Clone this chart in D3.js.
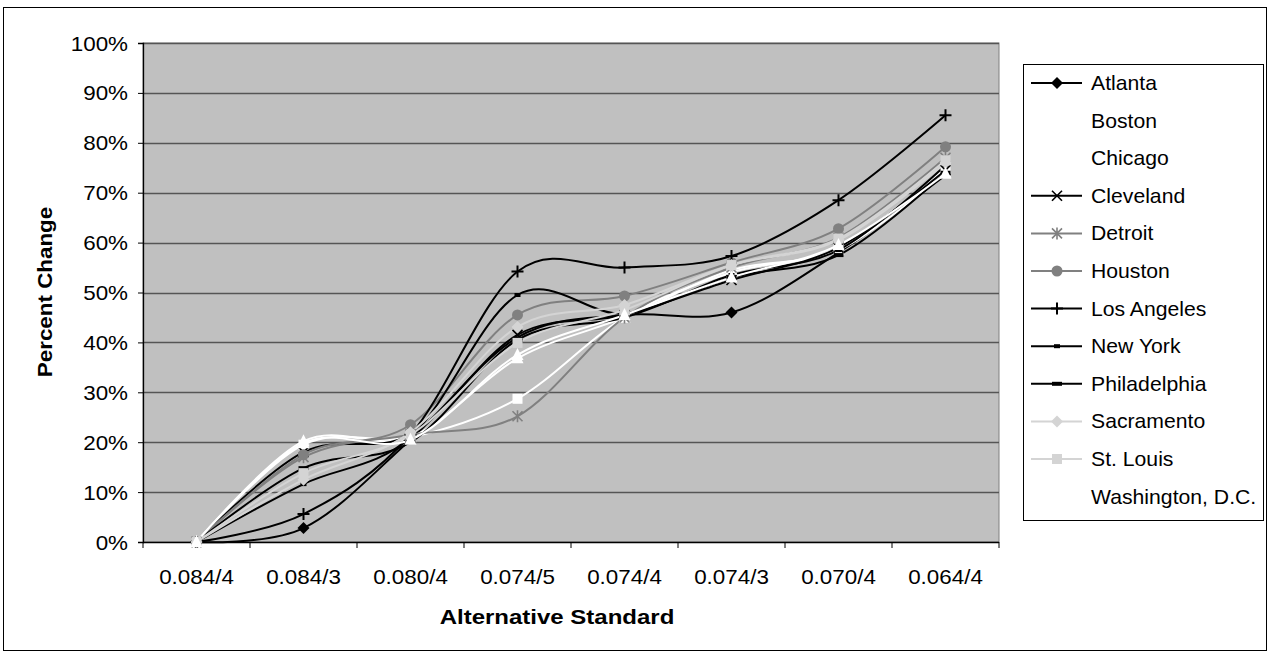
<!DOCTYPE html>
<html>
<head>
<meta charset="utf-8">
<script src="https://cdn.jsdelivr.net/npm/d3@7"></script>
<style>
  html, body { margin: 0; padding: 0; background: #fff; }
  svg { display: block; font-family: Arial, "Liberation Sans", sans-serif; }
</style>
</head>
<body>
<svg id="chart" width="1270" height="658"></svg>
<script>
// Alternative ozone standards on the x axis
const categories = ["0.084/4", "0.084/3", "0.080/4", "0.074/5", "0.074/4", "0.074/3", "0.070/4", "0.064/4"];

// Percent change by city (in %)
const atlanta      = [0, 2.8, 20.5, 41.0, 45.5, 46.0, 58.0, 73.5];
const boston       = [0, 19.5, 21.0, 28.7, 45.0, 54.0, 59.0, 75.0];
const chicago      = [0, 20.2, 21.0, 36.8, 45.0, 54.5, 58.5, 74.0];
const cleveland    = [0, 18.0, 21.5, 41.5, 45.5, 52.5, 59.0, 74.5];
const detroit      = [0, 17.0, 21.5, 25.2, 45.0, 55.0, 61.0, 77.0];
const houston      = [0, 17.5, 23.5, 45.5, 49.3, 56.0, 62.8, 79.2];
const losAngeles   = [0, 5.6, 21.5, 54.2, 55.0, 57.3, 68.5, 85.5];
const newYork      = [0, 11.6, 21.0, 49.5, 45.8, 53.5, 58.5, 75.5];
const philadelphia = [0, 14.8, 20.0, 40.5, 45.0, 53.0, 57.5, 74.0];
const sacramento   = [0, 12.5, 22.0, 43.1, 47.5, 55.5, 60.5, 76.0];
const stLouis      = [0, 13.8, 21.5, 39.9, 46.5, 55.5, 60.8, 76.5];
const washington   = [0, 19.8, 20.5, 37.5, 45.5, 53.0, 59.5, 73.8];

const yTicks = [0, 10, 20, 30, 40, 50, 60, 70, 80, 90, 100];

const series = [
  { name: "Atlanta",          values: atlanta,      color: "#000000", marker: "diamond" },
  { name: "Boston",           values: boston,       color: "#ffffff", marker: "square" },
  { name: "Chicago",          values: chicago,      color: "#ffffff", marker: "triangle" },
  { name: "Cleveland",        values: cleveland,    color: "#000000", marker: "x" },
  { name: "Detroit",          values: detroit,      color: "#808080", marker: "star" },
  { name: "Houston",          values: houston,      color: "#808080", marker: "circle" },
  { name: "Los Angeles",      values: losAngeles,   color: "#000000", marker: "plus" },
  { name: "New York",         values: newYork,      color: "#000000", marker: "dash" },
  { name: "Philadelphia",     values: philadelphia, color: "#000000", marker: "longdash" },
  { name: "Sacramento",       values: sacramento,   color: "#d4d4d4", marker: "diamond" },
  { name: "St. Louis",        values: stLouis,      color: "#d4d4d4", marker: "square" },
  { name: "Washington, D.C.", values: washington,   color: "#ffffff", marker: "triangle" }
];

// Markers that appear on each series (some are hidden under others)
const markerShown = {
  "Atlanta": [false, true, false, false, false, true, false, false]
};

const FONT = 20;
const svg = d3.select("#chart");

// Outer chart frame
svg.append("rect")
  .attr("x", 3.5).attr("y", 7.5).attr("width", 1263).attr("height", 643)
  .attr("fill", "#fff").attr("stroke", "#000").attr("stroke-width", 1);

const plot = { left: 143, right: 999, top: 43, bottom: 542 };

const x = d3.scaleBand().domain(categories).range([plot.left, plot.right]).padding(0);
const y = d3.scaleLinear().domain([0, 100]).range([plot.bottom, plot.top]);
const cx = c => x(c) + x.bandwidth() / 2;

// Plot background
svg.append("rect")
  .attr("x", plot.left).attr("y", plot.top)
  .attr("width", plot.right - plot.left).attr("height", plot.bottom - plot.top)
  .attr("fill", "#c0c0c0").attr("stroke", "#808080").attr("stroke-width", 1);

// Gridlines
svg.append("g")
  .selectAll("line")
  .data(yTicks.filter(d => d > 0))
  .join("line")
  .attr("x1", plot.left).attr("x2", plot.right)
  .attr("y1", d => Math.round(y(d)) + 0.5).attr("y2", d => Math.round(y(d)) + 0.5)
  .attr("stroke", "#555").attr("stroke-width", 1.3);

// Y axis
const yAxis = d3.axisLeft(y).tickValues(yTicks).tickFormat(d => d + "%").tickSize(5).tickPadding(0);
const gy = svg.append("g").attr("transform", `translate(${plot.left},0)`).call(yAxis);
gy.select(".domain").attr("stroke", "#000").attr("stroke-width", 1.3);
gy.selectAll(".tick line").attr("stroke", "#000");
gy.selectAll(".tick text")
  .attr("font-size", FONT).attr("fill", "#000")
  .attr("font-family", "Arial, 'Liberation Sans', sans-serif")
  .attr("x", null).attr("dy", null).attr("y", 7)
  .attr("transform", "translate(-15,0) scale(1.12,1)");

// X axis: ticks between categories
const gx = svg.append("g").attr("transform", `translate(0,${plot.bottom})`);
gx.append("line").attr("x1", plot.left).attr("x2", plot.right).attr("y1", 0.5).attr("y2", 0.5)
  .attr("stroke", "#000").attr("stroke-width", 1.3);
const bounds = categories.map(c => x(c)).concat([plot.right]);
gx.selectAll("line.tk").data(bounds).join("line").attr("class", "tk")
  .attr("x1", d => d).attr("x2", d => d).attr("y1", 0).attr("y2", 6)
  .attr("stroke", "#000");
gx.selectAll("text").data(categories).join("text")
  .attr("transform", d => `translate(${cx(d)},42) scale(1.12,1)`)
  .attr("text-anchor", "middle").attr("font-size", FONT).attr("fill", "#000")
  .text(d => d);

// Axis titles
svg.append("text").attr("transform", "translate(557,624) scale(1.2,1)").attr("text-anchor", "middle")
  .attr("font-size", FONT).attr("font-weight", "bold").text("Alternative Standard");
svg.append("text").attr("transform", "translate(52,292) rotate(-90) scale(1.12,1)").attr("text-anchor", "middle")
  .attr("font-size", FONT).attr("font-weight", "bold").text("Percent Change");

// Marker drawing
function drawMarker(g, type, color, px, py) {
  const s = 5;
  if (type === "diamond") {
    g.append("path").attr("d", `M${px},${py - s - 1}L${px + s + 1},${py}L${px},${py + s + 1}L${px - s - 1},${py}Z`).attr("fill", color);
  } else if (type === "square") {
    g.append("rect").attr("x", px - s).attr("y", py - s).attr("width", 2 * s).attr("height", 2 * s).attr("fill", color);
  } else if (type === "triangle") {
    g.append("path").attr("d", `M${px},${py - s - 2}L${px + s + 1},${py + s}L${px - s - 1},${py + s}Z`).attr("fill", color);
  } else if (type === "circle") {
    g.append("circle").attr("cx", px).attr("cy", py).attr("r", s + 0.5).attr("fill", color);
  } else if (type === "x") {
    g.append("path").attr("d", `M${px - s},${py - s}L${px + s},${py + s}M${px + s},${py - s}L${px - s},${py + s}`)
      .attr("stroke", color).attr("stroke-width", 1.6).attr("fill", "none");
  } else if (type === "star") {
    g.append("path").attr("d", `M${px - s},${py - s}L${px + s},${py + s}M${px + s},${py - s}L${px - s},${py + s}M${px},${py - s - 1}L${px},${py + s + 1}`)
      .attr("stroke", color).attr("stroke-width", 1.6).attr("fill", "none");
  } else if (type === "plus") {
    g.append("path").attr("d", `M${px - s - 1},${py}L${px + s + 1},${py}M${px},${py - s - 1}L${px},${py + s + 1}`)
      .attr("stroke", color).attr("stroke-width", 2).attr("fill", "none");
  } else if (type === "dash") {
    g.append("rect").attr("x", px - 3).attr("y", py - 2).attr("width", 6).attr("height", 4).attr("fill", color);
  } else if (type === "longdash") {
    g.append("rect").attr("x", px - 5).attr("y", py - 2).attr("width", 10).attr("height", 4).attr("fill", color);
  }
}

// Series lines (smoothed)
const line = d3.line()
  .x((d, i) => cx(categories[i]))
  .y(d => y(d))
  .curve(d3.curveCardinal.tension(0));

const linesG = svg.append("g");
series.forEach(s => {
  linesG.append("path").datum(s.values)
    .attr("d", line).attr("fill", "none")
    .attr("stroke", s.color).attr("stroke-width", 2);
});

const markersG = svg.append("g");
series.forEach(s => {
  const shown = markerShown[s.name];
  s.values.forEach((v, i) => {
    if (shown && !shown[i]) return;
    drawMarker(markersG, s.marker, s.color, cx(categories[i]), y(v));
  });
});

// Legend
const lg = svg.append("g");
lg.append("rect").attr("x", 1023.5).attr("y", 64.5).attr("width", 240).attr("height", 456)
  .attr("fill", "#fff").attr("stroke", "#000").attr("stroke-width", 1);
series.forEach((s, i) => {
  const ly = 83 + i * 37.6;
  lg.append("line").attr("x1", 1031).attr("x2", 1082).attr("y1", ly).attr("y2", ly)
    .attr("stroke", s.color).attr("stroke-width", 2);
  drawMarker(lg, s.marker, s.color, 1057, ly);
  lg.append("text").attr("transform", `translate(1091,${ly + 7}) scale(1.06,1)`)
    .attr("font-size", FONT).attr("fill", "#000").text(s.name);
});
</script>
</body>
</html>
